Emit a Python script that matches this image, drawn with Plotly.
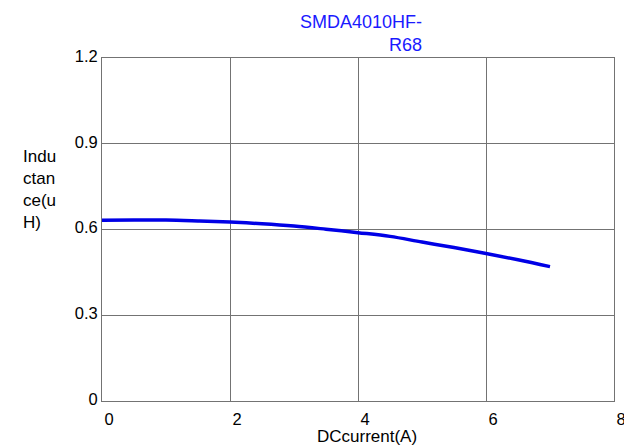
import plotly.graph_objects as go

current = [0, 0.5, 1, 1.5, 2, 2.5, 3, 3.5, 4, 4.5, 5, 5.5, 6, 6.5, 7.0]
inductance = [0.632, 0.633, 0.633, 0.630, 0.626, 0.620, 0.612, 0.601, 0.589, 0.576, 0.556, 0.537, 0.516, 0.494, 0.470]
x_ticks = [0, 2, 4, 6, 8]
y_ticks = [0, 0.3, 0.6, 0.9, 1.2]
y_tick_text = ["0", "0.3", "0.6", "0.9", "1.2"]
title_text = "SMDA4010HF-<br>R68"
y_title = "Indu<br>ctan<br>ce(u<br>H)"
x_title = "DCcurrent(A)"

FONT = "Liberation Sans, Arial, sans-serif"
L, R, T, B = 94, 26, 50, 55
PW = 632 - L - R
PH = 448 - T - B

fig = go.Figure()
fig.add_trace(go.Scatter(x=current, y=inductance, mode="lines",
                         line=dict(color="#0000e6", width=3.5, shape="spline"),
                         showlegend=False, hoverinfo="skip"))

fig.update_layout(
    width=632, height=448,
    margin=dict(l=L, r=R, t=T, b=B),
    paper_bgcolor="white", plot_bgcolor="white",
    font=dict(family=FONT, size=16.5, color="black"),
    xaxis=dict(range=[0, 8], tickvals=x_ticks, ticktext=[str(v) for v in x_ticks],
               showgrid=True, gridcolor="#737373", gridwidth=1,
               showline=True, linecolor="#737373", linewidth=1, mirror=True,
               zeroline=False, ticks="", ticklabelshift=7, ticklabelstandoff=3,
               fixedrange=True),
    yaxis=dict(range=[0, 1.2], tickvals=y_ticks, ticktext=y_tick_text,
               showgrid=True, gridcolor="#737373", gridwidth=1,
               showline=True, linecolor="#737373", linewidth=1, mirror=True,
               zeroline=False, ticks="", ticklabelshift=-2, ticklabelstandoff=0,
               fixedrange=True),
    annotations=[
        dict(text=title_text, xref="paper", yref="paper", x=(416 - L) / PW, y=1,
             xanchor="right", yanchor="bottom", yshift=1, align="right", showarrow=False,
             font=dict(family=FONT, size=18, color="#1a1aff")),
        dict(text=y_title, xref="paper", yref="paper", x=-(L - 13) / PW,
             y=(448 - B - 181.5) / PH,
             xanchor="left", yanchor="middle", align="left", showarrow=False,
             font=dict(family=FONT, size=17, color="black")),
        dict(text=x_title, xref="paper", yref="paper", x=0.5 + 9 / PW, y=0,
             xanchor="center", yanchor="middle", yshift=-35, showarrow=False,
             font=dict(family=FONT, size=17, color="black")),
    ],
)

fig.write_html("out.html")
